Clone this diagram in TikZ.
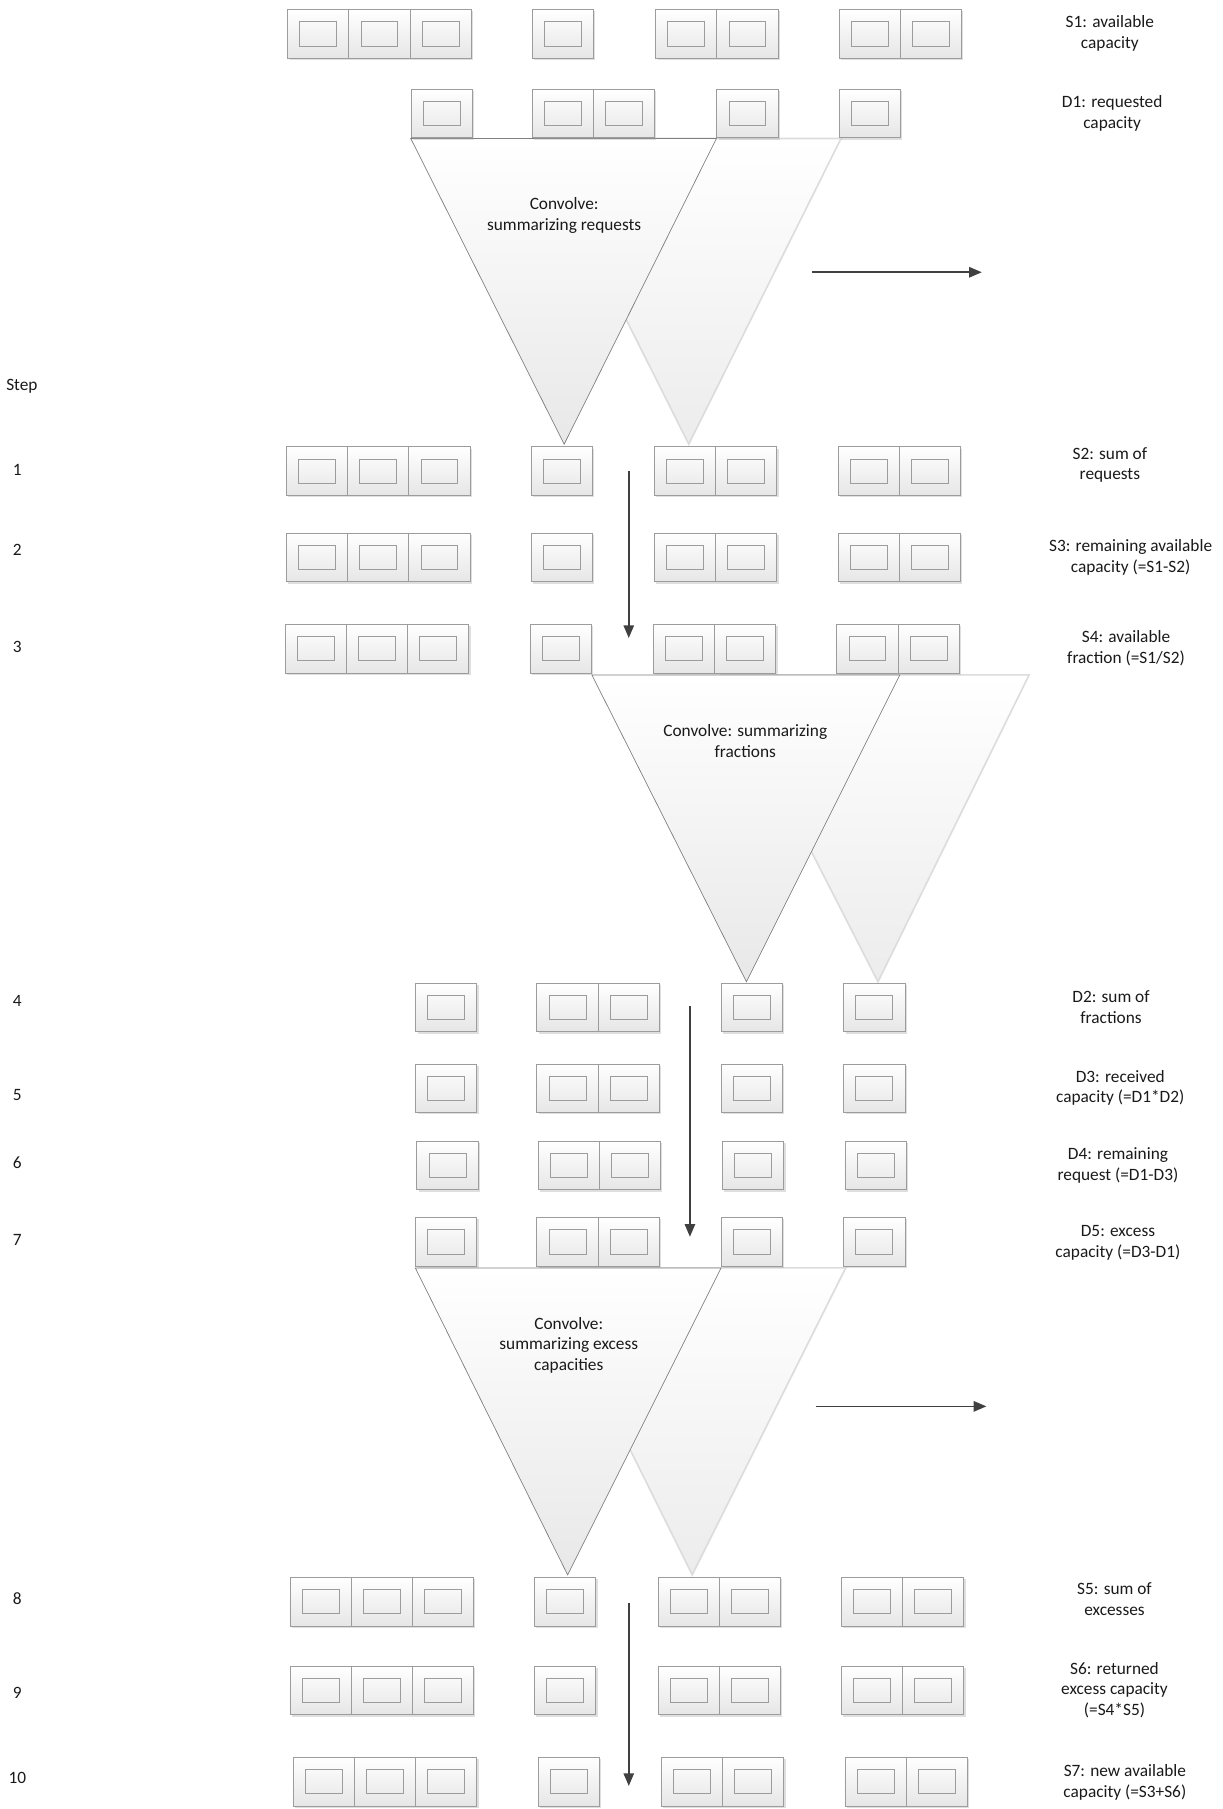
\documentclass[tikz,border=0pt]{standalone}
\usepackage{fontspec}
\setmainfont{Carlito}
\usetikzlibrary{shadows,arrows.meta}
\definecolor{cellborder}{HTML}{9C9C9C}
\definecolor{cellbot}{HTML}{E6E6E6}
\definecolor{tribord}{HTML}{7F7F7F}
\definecolor{tribot}{HTML}{E8E8E8}
\definecolor{shtribot}{HTML}{ECECEC}
\definecolor{shtribord}{HTML}{DCDCDC}
\definecolor{arrowc}{HTML}{404040}
\definecolor{txt}{HTML}{1A1A1A}
\tikzset{
  cellbox/.style={rectangle, anchor=north west, minimum width=53pt, minimum height=42pt,
    inner sep=0pt, draw=cellborder, line width=0.7pt, top color=white, bottom color=cellbot,
    drop shadow={shadow xshift=1.6pt, shadow yshift=-1.6pt, opacity=0.35, fill=gray!70},
    path picture={\draw[draw=cellborder, line width=0.7pt, top color=white, bottom color=cellbot]
      ([xshift=-16pt,yshift=-10.5pt]path picture bounding box.center) rectangle
      ([xshift=16pt,yshift=10.5pt]path picture bounding box.center);}},
  fronttri/.style={draw=tribord, line width=0.6pt, top color=white, bottom color=tribot},
  backtri/.style={draw=shtribord, line width=1.4pt, top color=white, bottom color=shtribot},
  lbl/.style={align=center, text=txt, font=\fontsize{15}{18}\selectfont, inner sep=0pt},
  conn/.style={draw=arrowc, line width=1.4pt, -{Triangle[length=11pt,width=9pt]}}
}
\newcommand\mkcell[3]{\node[cellbox] (#1) at (#2,#3) {};}
\newcommand\srow[3]{%
  \mkcell{#1-1}{#2}{#3}\mkcell{#1-2}{#2+53}{#3}\mkcell{#1-3}{#2+106}{#3}%
  \mkcell{#1-4}{#2+212}{#3}%
  \mkcell{#1-5}{#2+319}{#3}\mkcell{#1-6}{#2+372}{#3}%
  \mkcell{#1-7}{#2+478}{#3}\mkcell{#1-8}{#2+531}{#3}}
\newcommand\drow[3]{%
  \mkcell{#1-1}{#2}{#3}%
  \mkcell{#1-2}{#2+105}{#3}\mkcell{#1-3}{#2+158}{#3}%
  \mkcell{#1-4}{#2+265}{#3}%
  \mkcell{#1-5}{#2+371}{#3}}
\begin{document}
\begin{tikzpicture}[x=1pt,y=-1pt]
\fill[white] (0,0) rectangle (1060,1568);
\useasboundingbox (0,0) rectangle (1060,1568);

% convolution triangles (back shadow first, then front)
\shade[backtri] (464,120) -- (729,120) -- (597,385) -- cycle;
\shade[fronttri] (356,120) -- (621,120) -- (489,385) -- cycle;
\shade[backtri] (625,585) -- (892,585) -- (761,851) -- cycle;
\shade[fronttri] (513,585) -- (780,585) -- (647,851) -- cycle;
\shade[backtri] (468,1099) -- (733,1099) -- (600,1365) -- cycle;
\shade[fronttri] (360,1099) -- (625,1099) -- (492,1365) -- cycle;

% cell rows
\srow{S1}{249}{8}
\drow{D1}{356}{77}
\srow{S2}{248}{387}
\srow{S3}{248}{462}
\srow{S4}{247}{541}
\drow{D2}{360}{852}
\drow{D3}{360}{922}
\drow{D4}{361}{989}
\drow{D5}{360}{1055}
\srow{S5}{251}{1367}
\srow{S6}{251}{1444}
\srow{S7}{254}{1523}

% triangle texts
\node[lbl] (c1) at (489,187) {Convolve:\\summarizing requests};
\node[lbl] (c2) at (646,642) {Convolve: summarizing\\fractions};
\node[lbl] (c3) at (493,1166) {Convolve:\\summarizing excess\\capacities};

% right labels
\node[lbl] (tS1) at (962,29) {S1: available\\capacity};
\node[lbl] (tD1) at (964,98) {D1: requested\\capacity};
\node[lbl] (tS2) at (962,403) {S2: sum of\\requests};
\node[lbl] (tS3) at (980,483) {S3: remaining available\\capacity (=S1-S2)};
\node[lbl] (tS4) at (976,562) {S4: available\\fraction (=S1/S2)};
\node[lbl] (tD2) at (963,873) {D2: sum of\\fractions};
\node[lbl] (tD3) at (971,943) {D3: received\\capacity (=D1*D2)};
\node[lbl] (tD4) at (969,1010) {D4: remaining\\request (=D1-D3)};
\node[lbl] (tD5) at (969,1077) {D5: excess\\capacity (=D3-D1)};
\node[lbl] (tS5) at (966,1386) {S5: sum of\\excesses};
\node[lbl] (tS6) at (966,1465) {S6: returned\\excess capacity\\(=S4*S5)};
\node[lbl] (tS7) at (975,1545) {S7: new available\\capacity (=S3+S6)};

% step labels
\node[lbl] (step) at (19,335) {Step};
\node[lbl] (n1) at (15,407) {1};
\node[lbl] (n2) at (15,477) {2};
\node[lbl] (n3) at (15,561) {3};
\node[lbl] (n4) at (15,868) {4};
\node[lbl] (n5) at (15,949) {5};
\node[lbl] (n6) at (15,1008) {6};
\node[lbl] (n7) at (15,1075) {7};
\node[lbl] (n8) at (15,1386) {8};
\node[lbl] (n9) at (15,1467) {9};
\node[lbl] (n10) at (15,1541) {10};

% arrows
\coordinate (h1a) at (704,236); \coordinate (h1b) at (851,236);
\coordinate (v1a) at (545,408); \coordinate (v1b) at (545,553);
\coordinate (v2a) at (598,872); \coordinate (v2b) at (598,1072);
\coordinate (h2a) at (707,1219); \coordinate (h2b) at (855,1219);
\coordinate (v3a) at (545,1389); \coordinate (v3b) at (545,1548);
\draw[conn] (h1a) -- (h1b);
\draw[conn] (v1a) -- (v1b);
\draw[conn] (v2a) -- (v2b);
\draw[conn] (h2a) -- (h2b);
\draw[conn] (v3a) -- (v3b);
\end{tikzpicture}
\end{document}
